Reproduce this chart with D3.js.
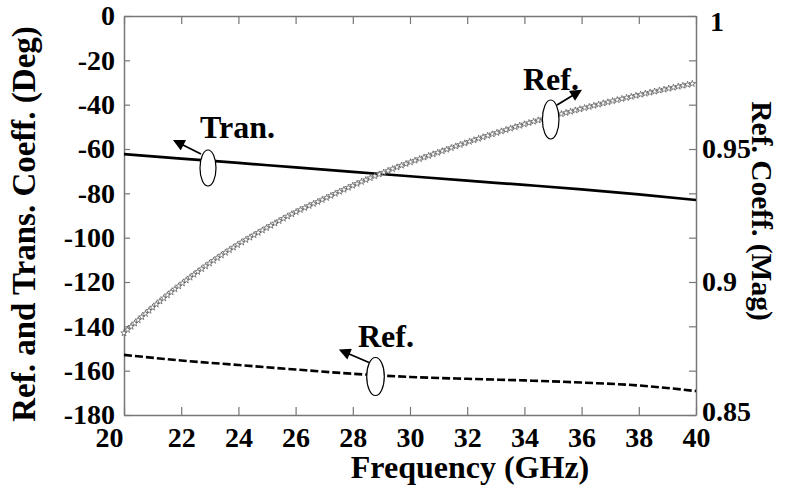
<!DOCTYPE html>
<html>
<head>
<meta charset="utf-8">
<script src="https://cdn.jsdelivr.net/npm/d3@7"></script>
<style>
  body { margin: 0; background: #fff; }
  svg { font-family: "Liberation Serif", "Times New Roman", serif; font-weight: bold; }
</style>
</head>
<body>
<svg></svg>
<script>
var width = 787;
var height = 488;

// frequency points (GHz) for the 2 GHz sampled curves
var freq = [20, 22, 24, 26, 28, 30, 32, 34, 36, 38, 40];
// transmission phase (deg), left axis
var tranPhase = [-62.3, -64.3, -66.3, -68.3, -70.3, -72.3, -74.3, -76.2, -78.2, -80.5, -83.0];
// reflection magnitude, right axis
var refMag = [0.8726, 0.8705, 0.8688, 0.8671, 0.8655, 0.8643, 0.8636, 0.863, 0.8622, 0.8611, 0.859];

// reflection phase (deg), 1 GHz steps, left axis
var freqFine = [20, 21, 22, 23, 24, 25, 26, 27, 28, 29, 30, 31, 32, 33, 34, 35, 36, 37, 38, 39, 40];
var refPhase = [-143, -131.5, -121, -111.5, -103, -95.5, -88.5, -82.5, -76.5, -71, -66, -61.5,
  -57, -52.8, -48.8, -45.2, -41.8, -38.6, -35.6, -32.8, -30.2];

var xTicks = [20, 22, 24, 26, 28, 30, 32, 34, 36, 38, 40];
var yLeftTicks = [0, -20, -40, -60, -80, -100, -120, -140, -160, -180];
var yRightLabels = [0.85, 0.9, 0.95, 1];

var padding = { top: 16, right: 91, bottom: 73, left: 124 };

var svg = d3.select("svg").attr("width", width).attr("height", height);

var xScale = d3.scaleLinear()
  .domain([20, 40])
  .range([padding.left, width - padding.right]);

var yLeft = d3.scaleLinear()
  .domain([-180, 0])
  .range([height - padding.bottom, padding.top]);

var yRight = d3.scaleLinear()
  .domain([0.85, 1])
  .range([height - padding.bottom, padding.top]);

var axisGray = "#777";

// arrow head
svg.append("defs").append("marker")
  .attr("id", "arrow")
  .attr("viewBox", "0 0 10 10")
  .attr("refX", 8)
  .attr("refY", 5)
  .attr("markerWidth", 7)
  .attr("markerHeight", 6.5)
  .attr("orient", "auto")
  .append("path")
  .attr("d", "M0,0 L10,5 L0,10 z")
  .attr("fill", "#000");

// axes
function styleAxis(g) {
  g.attr("font-family", null).attr("font-size", null);
  g.select(".domain").attr("stroke", axisGray).attr("stroke-width", 1.5);
  g.selectAll(".tick line").attr("stroke", axisGray).attr("stroke-width", 1.2);
  g.selectAll("text")
    .attr("font-size", 28)
    .attr("fill", "#000");
}

var xBottom = svg.append("g")
  .attr("transform", "translate(0," + yLeft(-180) + ")")
  .call(d3.axisBottom(xScale).tickValues(xTicks).tickSizeInner(-8).tickSizeOuter(0).tickPadding(12)
    .tickFormat(d => String(d)))
  .call(styleAxis);
xBottom.selectAll(".tick").filter(d => d === 20).select("text")
  .attr("text-anchor", "end").attr("x", -1);

svg.append("g")
  .attr("transform", "translate(0," + yLeft(0) + ")")
  .call(d3.axisTop(xScale).tickValues(xTicks).tickSizeInner(-8).tickSizeOuter(0).tickFormat(""))
  .call(styleAxis);

svg.append("g")
  .attr("transform", "translate(" + xScale(20) + ",0)")
  .call(d3.axisLeft(yLeft).tickValues(yLeftTicks).tickSizeInner(-6).tickSizeOuter(0).tickPadding(9)
    .tickFormat(d => String(d)))
  .call(styleAxis);

var rightTicks = d3.range(0, 10).map(i => 0.85 + i * 0.15 / 9);
var yRightAxis = svg.append("g")
  .attr("transform", "translate(" + xScale(40) + ",0)")
  .call(d3.axisRight(yRight).tickValues(rightTicks).tickSizeInner(-7).tickSizeOuter(0).tickPadding(6)
    .tickFormat(d => {
      var m = yRightLabels.find(v => Math.abs(v - d) < 1e-6);
      return m === undefined ? "" : String(m);
    }))
  .call(styleAxis);
yRightAxis.selectAll(".tick").filter(d => Math.abs(d - 1) < 1e-6).select("text")
  .attr("y", 6).attr("x", 14);
yRightAxis.selectAll(".tick").filter(d => Math.abs(d - 0.85) < 1e-6).select("text").attr("y", -3);

// axis titles
svg.append("text")
  .attr("x", 470)
  .attr("y", 478)
  .attr("text-anchor", "middle")
  .attr("font-size", 32)
  .text("Frequency (GHz)");

svg.append("text")
  .attr("transform", "translate(35,224) rotate(-90)")
  .attr("text-anchor", "middle")
  .attr("font-size", 33)
  .text("Ref. and Trans. Coeff. (Deg)");

svg.append("text")
  .attr("transform", "translate(752,211) rotate(90)")
  .attr("text-anchor", "middle")
  .attr("font-size", 29.5)
  .text("Ref. Coeff. (Mag)");

// transmission phase
var tranLine = d3.line()
  .x((d, i) => xScale(freq[i]))
  .y(d => yLeft(d))
  .curve(d3.curveMonotoneX);

svg.append("path")
  .attr("d", tranLine(tranPhase))
  .attr("fill", "none")
  .attr("stroke", "#000")
  .attr("stroke-width", 2.7);

// reflection magnitude (dashed)
var magLine = d3.line()
  .x((d, i) => xScale(freq[i]))
  .y(d => yRight(d))
  .curve(d3.curveMonotoneX);

svg.append("path")
  .attr("d", magLine(refMag))
  .attr("fill", "none")
  .attr("stroke", "#000")
  .attr("stroke-width", 2.6)
  .attr("stroke-dasharray", "8,3");

// reflection phase, star markers along the curve
var refLine = d3.line()
  .x((d, i) => xScale(freqFine[i]))
  .y(d => yLeft(d))
  .curve(d3.curveMonotoneX);

var refPath = svg.append("path")
  .attr("d", refLine(refPhase))
  .attr("fill", "none")
  .attr("stroke", "#999")
  .attr("stroke-width", 0.8);

var len = refPath.node().getTotalLength();
var star = d3.symbol().type(d3.symbolStar).size(13);
var pts = d3.range(0, len, 4.8).map(l => refPath.node().getPointAtLength(l));
svg.append("g")
  .selectAll("path")
  .data(pts)
  .enter()
  .append("path")
  .attr("transform", p => "translate(" + p.x + "," + p.y + ")")
  .attr("d", star)
  .attr("fill", "#fff")
  .attr("stroke", "#4a4a4a")
  .attr("stroke-width", 0.65);

// annotations: label, ellipse and arrow
var notes = [
  { text: "Tran.", tx: 200, ty: 138, cx: 208, cy: 168, rx: 8, ry: 18, ax1: 201, ay1: 154, ax2: 175, ay2: 141 },
  { text: "Ref.", tx: 523, ty: 90, cx: 550.7, cy: 119.5, rx: 8.3, ry: 19.5, ax1: 557, ay1: 105, ax2: 580, ay2: 91 },
  { text: "Ref.", tx: 358, ty: 346.5, cx: 375.5, cy: 376.5, rx: 8.8, ry: 19, ax1: 369, ay1: 362.5, ax2: 341, ay2: 350.5 }
];

var ann = svg.append("g").selectAll("g").data(notes).enter().append("g");
ann.append("ellipse")
  .attr("cx", d => d.cx).attr("cy", d => d.cy)
  .attr("rx", d => d.rx).attr("ry", d => d.ry)
  .attr("fill", "#fff")
  .attr("stroke", "#000")
  .attr("stroke-width", 1.2);
ann.append("line")
  .attr("x1", d => d.ax1).attr("y1", d => d.ay1)
  .attr("x2", d => d.ax2).attr("y2", d => d.ay2)
  .attr("stroke", "#000")
  .attr("stroke-width", 1.8)
  .attr("marker-end", "url(#arrow)");
ann.append("text")
  .attr("x", d => d.tx).attr("y", d => d.ty)
  .attr("font-size", 32)
  .text(d => d.text);
</script>
</body>
</html>
